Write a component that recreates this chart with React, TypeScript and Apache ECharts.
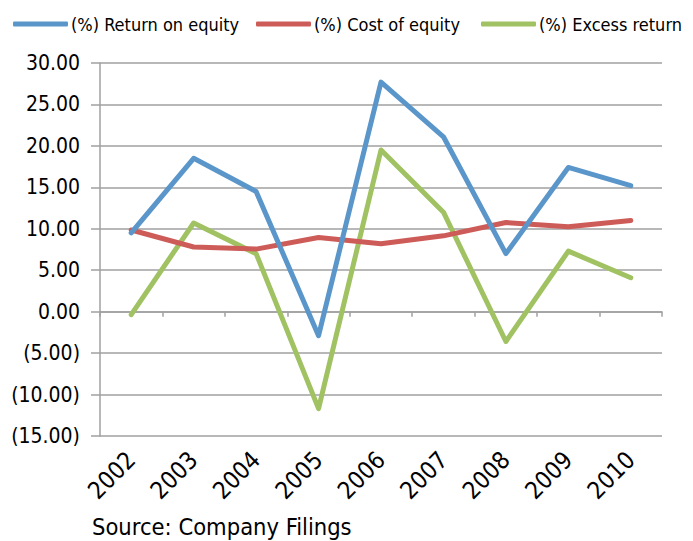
import React, { useEffect, useRef } from "react";
import * as echarts from "echarts";

const years = ["2002", "2003", "2004", "2005", "2006", "2007", "2008", "2009", "2010"];
const returnOnEquity = [9.5, 18.5, 14.5, -2.9, 27.7, 21.1, 7.0, 17.4, 15.2];
const costOfEquity = [9.85, 7.8, 7.55, 8.95, 8.2, 9.15, 10.75, 10.25, 11.0];
const excessReturn = [-0.35, 10.7, 7.0, -11.7, 19.5, 12.0, -3.6, 7.3, 4.1];
const seriesNames = ["(%) Return on equity", "(%) Cost of equity", "(%) Excess return"];
const colors = ["#5A96CA", "#CD5C58", "#A1C262"];
const sourceText = "Source: Company Filings";

const FONT = "'Liberation Sans Narrow', 'DejaVu Sans Condensed', 'Liberation Sans', sans-serif";

function fmt(v: number) {
  const s = Math.abs(v).toFixed(2);
  return v < 0 ? "(" + s + ")" : s;
}

const legendLefts = [13, 256, 481];

export default function App() {
  const ref = useRef<HTMLDivElement>(null);
  useEffect(() => {
    if (!ref.current) return;
    const chart = echarts.init(ref.current, null, { renderer: "svg" });
    const data = [returnOnEquity, costOfEquity, excessReturn];
    chart.setOption({
      animation: false,
      backgroundColor: "#ffffff",
      textStyle: { fontFamily: FONT },
      legend: seriesNames.map((name, i) => ({
        left: legendLefts[i],
        top: 15,
        padding: 0,
        itemWidth: 55,
        itemHeight: 5,
        itemGap: 5,
        icon: "roundRect",
        textStyle: { fontFamily: FONT, fontSize: 18, color: "#000", padding: [0, 0, 0, -2] },
        data: [name],
      })),
      grid: { left: 100, right: 31, top: 63, bottom: 105, containLabel: false },
      xAxis: [
        {
          type: "category",
          data: years,
          boundaryGap: true,
          axisLine: { onZero: true, lineStyle: { color: "#A0A0A0", width: 1.5 } },
          axisTick: { show: true, length: 5, inside: false, lineStyle: { color: "#A0A0A0", width: 1.5 } },
          axisLabel: { show: false },
        },
        {
          type: "category",
          data: years,
          position: "bottom",
          boundaryGap: true,
          axisLine: { show: false, onZero: false },
          axisTick: { show: false },
          axisLabel: {
            show: true,
            rotate: 45,
            margin: 20,
            fontSize: 24,
            color: "#000",
            fontFamily: FONT,
          },
        },
      ],
      yAxis: {
        type: "value",
        min: -15,
        max: 30,
        interval: 5,
        axisLine: { show: true, lineStyle: { color: "#A0A0A0", width: 1.5 } },
        axisTick: { show: true, length: 9, lineStyle: { color: "#A0A0A0", width: 1.5 } },
        splitLine: { show: true, lineStyle: { color: "#A0A0A0", width: 1.5 } },
        axisLabel: {
          formatter: (v: number) => fmt(v),
          fontSize: 21,
          color: "#000",
          margin: 20,
          fontFamily: FONT,
        },
      },
      series: seriesNames.map((name, i) => ({
        name,
        type: "line",
        xAxisIndex: 0,
        data: data[i],
        symbol: "none",
        color: colors[i],
        lineStyle: { width: 5, color: colors[i], cap: "round", join: "round" },
        z: 3 - i,
      })),
      graphic: [
        {
          type: "text",
          left: 92,
          top: 515,
          style: { text: sourceText, fontSize: 23.5, fontFamily: FONT, fill: "#000" },
        },
      ],
    });
    return () => chart.dispose();
  }, []);
  return <div ref={ref} style={{ width: 693, height: 541, position: "absolute", left: 0, top: 0 }} />;
}
